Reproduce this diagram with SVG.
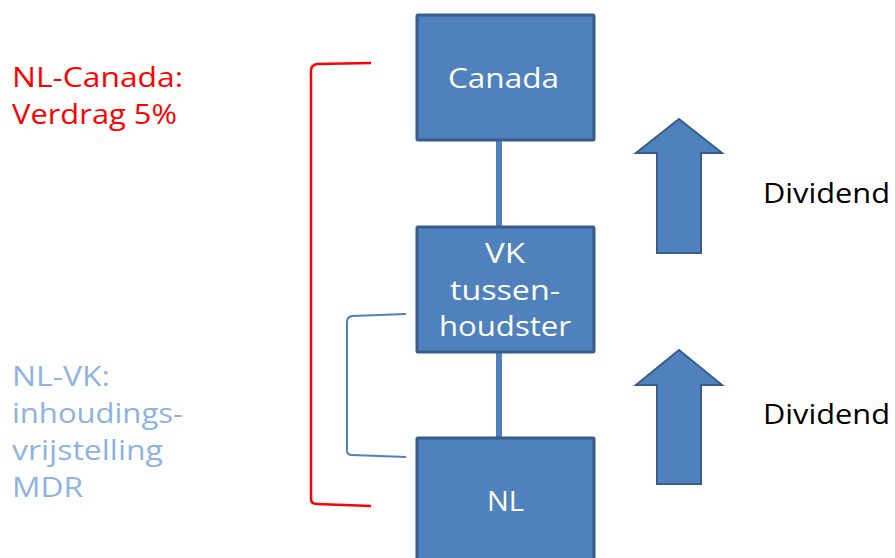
<svg xmlns="http://www.w3.org/2000/svg" width="895" height="558" viewBox="0 0 895 558">
<style>
.box{fill:#4f81bd;stroke:#385d8a;stroke-width:3}
.bt{font-family:"Open Sans","Liberation Sans",sans-serif;font-size:27px;fill:#ffffff}
.conn{stroke:#4f81bd;stroke-width:6;fill:none}
.arrow{fill:#4f81bd;stroke:#385d8a;stroke-width:2}
.lbl{font-family:"Open Sans","Liberation Sans",sans-serif;font-size:27px}
.red{fill:#ff0000}
.lb{fill:#8db3e2}
.blk{fill:#000000}
</style>
<g id="connectors">
<line class="conn" x1="499" y1="140" x2="499" y2="226"/>
<line class="conn" x1="499" y1="353" x2="499" y2="438"/>
</g>
<g id="canada">
<rect class="box" x="417" y="15" width="177" height="125" rx="1"/>
<text class="bt" x="448" y="88" textLength="111" lengthAdjust="spacingAndGlyphs">Canada</text>
</g>
<g id="vk">
<rect class="box" x="417" y="227" width="177" height="125" rx="1"/>
<text class="bt" x="485" y="263" textLength="40" lengthAdjust="spacingAndGlyphs">VK</text>
<text class="bt" x="450" y="300" textLength="110" lengthAdjust="spacingAndGlyphs">tussen-</text>
<text class="bt" x="439" y="336" textLength="132" lengthAdjust="spacingAndGlyphs">houdster</text>
</g>
<g id="nl">
<rect class="box" x="417" y="438" width="177" height="135" rx="1"/>
<text class="bt" x="487" y="511" textLength="37" lengthAdjust="spacingAndGlyphs">NL</text>
</g>
<g id="arrow1">
<polygon class="arrow" points="679,119 722,153 701,153 701,253 657,253 657,153 636,153"/>
</g>
<g id="arrow2">
<polygon class="arrow" points="679,350 722,385 701,385 701,484 657,484 657,385 636,385"/>
</g>
<g id="dividend1">
<text class="lbl blk" x="763" y="203" textLength="127" lengthAdjust="spacingAndGlyphs">Dividend</text>
</g>
<g id="dividend2">
<text class="lbl blk" x="763" y="424" textLength="127" lengthAdjust="spacingAndGlyphs">Dividend</text>
</g>
<g id="red-bracket">
<path d="M371,63 L317,64 Q311,65 311,71 L311,499 Q311,504 317,504 L371,506" fill="none" stroke="#ff0000" stroke-width="2.5"/>
<text class="lbl red" x="12" y="87" textLength="171" lengthAdjust="spacingAndGlyphs">NL-Canada:</text>
<text class="lbl red" x="12" y="124" textLength="165" lengthAdjust="spacingAndGlyphs">Verdrag 5%</text>
</g>
<g id="blue-bracket">
<path d="M406,314 L352,316 Q347,317 347,322 L347,451 Q347,455 352,455 L406,457" fill="none" stroke="#4f81bd" stroke-width="2"/>
<text class="lbl lb" x="12" y="386" textLength="98" lengthAdjust="spacingAndGlyphs">NL-VK:</text>
<text class="lbl lb" x="12" y="423" textLength="171" lengthAdjust="spacingAndGlyphs">inhoudings-</text>
<text class="lbl lb" x="12" y="460" textLength="151" lengthAdjust="spacingAndGlyphs">vrijstelling</text>
<text class="lbl lb" x="12" y="497" textLength="71" lengthAdjust="spacingAndGlyphs">MDR</text>
</g>
</svg>
